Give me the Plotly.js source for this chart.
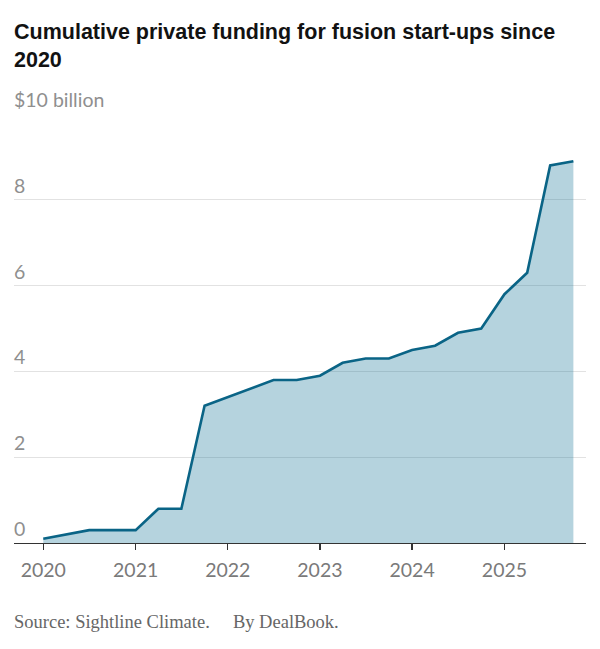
<!DOCTYPE html>
<html>
<head>
<meta charset="utf-8">
<script src="https://cdn.plot.ly/plotly-3.0.1.min.js"></script>
<style>html,body{margin:0;padding:0;background:#fff;}#chart{width:600px;height:649px;}</style>
</head>
<body>
<div id="chart"></div>
<script>
const quarters = ['2020-01-01','2020-04-01','2020-07-01','2020-10-01',
  '2021-01-01','2021-04-01','2021-07-01','2021-10-01',
  '2022-01-01','2022-04-01','2022-07-01','2022-10-01',
  '2023-01-01','2023-04-01','2023-07-01','2023-10-01',
  '2024-01-01','2024-04-01','2024-07-01','2024-10-01',
  '2025-01-01','2025-04-01','2025-07-01','2025-10-01'];
const funding = [0.1,0.2,0.3,0.3,
  0.3,0.8,0.8,3.2,
  3.4,3.6,3.8,3.8,
  3.9,4.2,4.3,4.3,
  4.5,4.6,4.9,5.0,
  5.8,6.3,8.8,8.9];
const yTickVals = [0,2,4,6,8,10];
const yTickText = ['0','2','4','6','8','$10 billion'];
const xTickVals = ['2020-01-01','2021-01-01','2022-01-01','2023-01-01','2024-01-01','2025-01-01'];
const xTickText = ['2020','2021','2022','2023','2024','2025'];
const titleText = 'Cumulative private funding for fusion start-ups since<br>2020';
const sourceText = 'Source: Sightline Climate.\u2003 By DealBook.';

const trace = {
  x: quarters, y: funding, type: 'scatter', mode: 'lines',
  line: {color: '#0a6486', width: 2.6},
  fill: 'tozeroy', fillcolor: 'rgba(11,110,145,0.3)',
  hoverinfo: 'skip'
};

const annotations = yTickVals.map((v, i) => ({
  xref: 'paper', yref: 'y', x: 0, y: v, xanchor: 'left', yanchor: 'bottom',
  text: yTickText[i], showarrow: false, yshift: 1, xshift: -2,
  font: {family: 'Lato, sans-serif', size: 19.5, color: '#8f8f8f'}
}));
annotations.push({
  xref: 'paper', yref: 'paper', x: -0.003, y: -0.185, xanchor: 'left', yanchor: 'middle',
  text: sourceText, showarrow: false,
  font: {family: 'Liberation Serif, serif', size: 18.5, color: '#666'}
});

const layout = {
  width: 600, height: 649,
  margin: {l: 14, r: 14, t: 114, b: 106},
  paper_bgcolor: '#fff', plot_bgcolor: '#fff',
  showlegend: false,
  title: {
    text: titleText, xref: 'container', yref: 'container',
    x: 14/600, xanchor: 'left', y: 1 - 39/649, yanchor: 'top',
    font: {family: 'Liberation Sans Narrow, Arial Narrow, sans-serif', size: 21.5, color: '#121212', weight: 'bold'}
  },
  xaxis: {
    type: 'date', range: ['2019-09-07', '2025-11-20'],
    tickvals: xTickVals, ticktext: xTickText,
    showgrid: false, zeroline: false,
    showline: true, linecolor: '#333', linewidth: 1.3,
    ticks: 'outside', ticklen: 6, tickcolor: '#333', tickwidth: 1.3,
    ticklabelstandoff: 3,
    tickfont: {family: 'Lato, sans-serif', size: 19.5, color: '#7a7a7a'},
    fixedrange: true
  },
  yaxis: {
    range: [0, 10], tickvals: yTickVals, showticklabels: false,
    showgrid: true, gridcolor: '#e2e2e2', gridwidth: 1,
    zeroline: false, showline: false, ticks: '', fixedrange: true
  },
  annotations: annotations
};

Plotly.newPlot('chart', [trace], layout, {displayModeBar: false, staticPlot: true});
</script>
</body>
</html>
